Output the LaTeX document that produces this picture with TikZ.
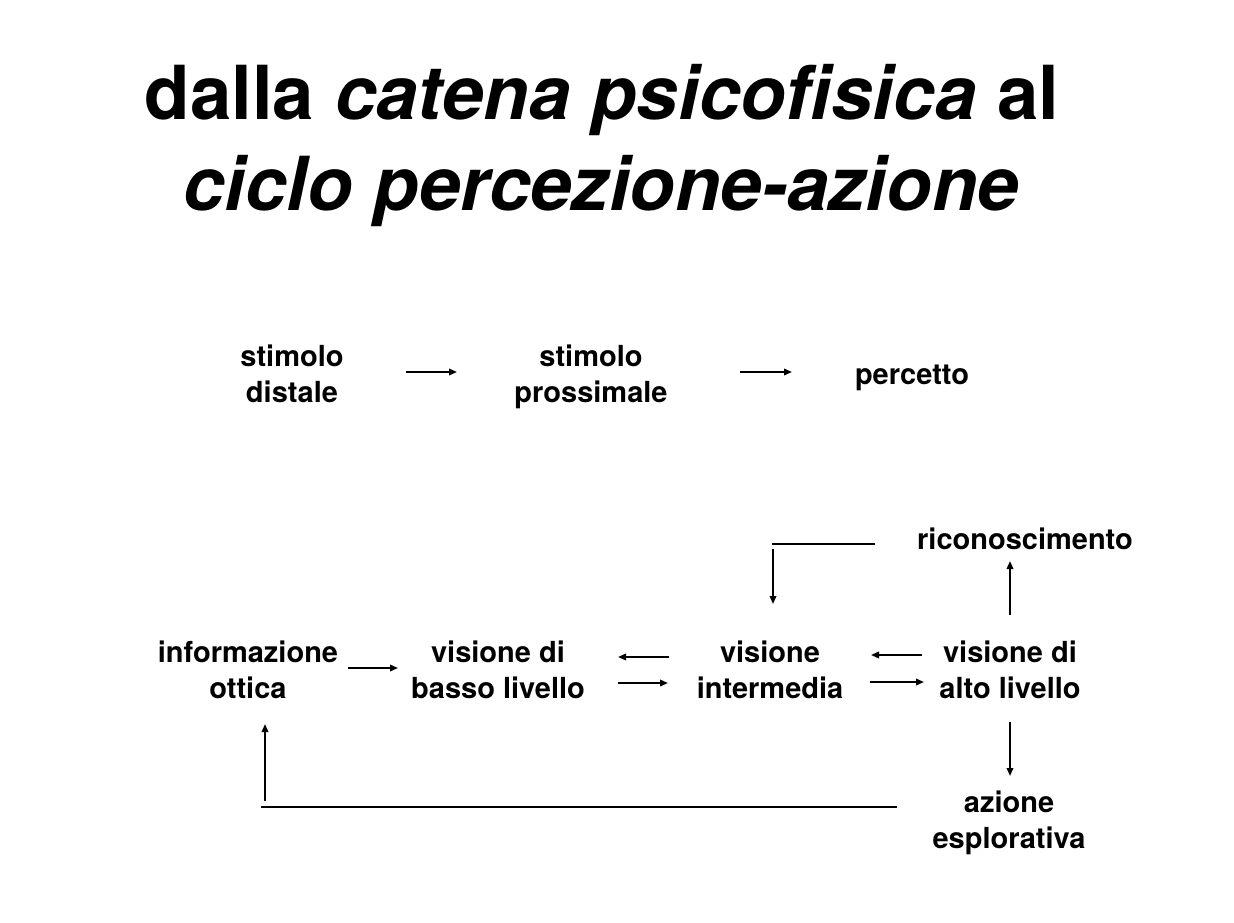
\documentclass[tikz,border=0pt]{standalone}
\usepackage{fontspec}
\setmainfont{TeX Gyre Heros}
\usetikzlibrary{arrows.meta}
\tikzset{
  lbl/.style={font=\bfseries\fontsize{29}{36}\selectfont, align=center, inner sep=0pt},
  ttl/.style={font=\bfseries\fontsize{74.5}{90}\selectfont, inner sep=0pt, anchor=base},
  arr/.style={line width=1.8pt, -{Triangle[length=8pt,width=6.5pt]}},
  ln/.style={line width=2pt}
}
\begin{document}
\begin{tikzpicture}[x=1pt,y=-1pt]
\useasboundingbox (0,0) rectangle (1234,923);
% title
\node[ttl] (t1) at (602,120) {dalla \textit{catena psicofisica} al};
\node[ttl] (t2) at (601,210) {\textit{ciclo percezione-azione}};
% top chain
\node[lbl] (sd) at (292,374) {stimolo\\distale};
\node[lbl] (sp) at (591,377) {stimolo\\prossimale};
\node[lbl] (pe) at (912,378) {percetto};
\draw[arr] (406,372) -- (457,372);
\draw[arr] (740,372) -- (792,372);
% cycle
\node[lbl] (ri) at (1025,539) {riconoscimento};
\node[lbl] (io) at (248,670) {informazione\\ottica};
\node[lbl] (vb) at (498,670) {visione di\\basso livello};
\node[lbl] (vi) at (770,670) {visione\\intermedia};
\node[lbl] (va) at (1010,670) {visione di\\alto livello};
\node[lbl] (ae) at (1009,823) {azione\\esplorativa};
\draw[arr] (348,668) -- (398,668);
\draw[arr] (669,657) -- (618,657);
\draw[arr] (618,683) -- (668,683);
\draw[arr] (922,655) -- (871,655);
\draw[arr] (870,682) -- (924,682);
% recognition
\draw[arr] (1010,615) -- (1010,561);
\coordinate (rA) at (875,544);
\coordinate (rB) at (772,544);
\draw[ln] (rA) -- (rB);
\draw[arr] (773,549) -- (773,604);
% action
\draw[arr] (1010,722) -- (1010,776);
\coordinate (aA) at (897,807);
\coordinate (aB) at (261,807);
\draw[ln] (aA) -- (aB);
\draw[arr] (265,801) -- (265,724);
\end{tikzpicture}
\end{document}
